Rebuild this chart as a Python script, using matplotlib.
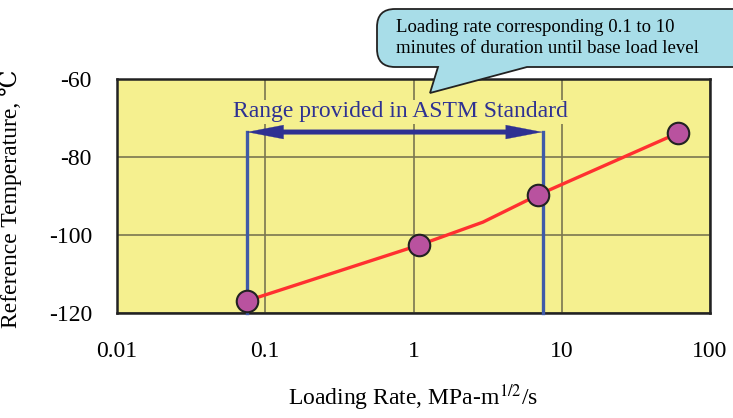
import matplotlib.pyplot as plt
from matplotlib.patches import PathPatch, FancyArrowPatch
from matplotlib.path import Path

# Data
rate = [0.075, 1.09, 6.95, 60.5]            # MPa-m^1/2/s
ref_temp = [-116.9, -102.6, -89.7, -73.9]   # deg C
curve_rate = [0.075, 1.09, 2.94, 6.95, 60.5]
curve_temp = [-116.9, -102.6, -96.7, -89.7, -73.9]
astm_range = [0.075, 7.43]
astm_top = -73.6
xticks = [0.01, 0.1, 1, 10, 100]
xtick_labels = ["0.01", "0.1", "1", "10", "100"]
yticks = [-120, -100, -80, -60]

plt.rcParams['font.family'] = ['Liberation Serif', 'DejaVu Serif']
plt.rcParams['mathtext.fontset'] = 'stix'
plt.rcParams['axes.unicode_minus'] = False

W, H = 733, 418
fig = plt.figure(figsize=(W / 100, H / 100), dpi=100)
ax = fig.add_axes([117 / W, 1 - 313 / H, (710 - 117) / W, (313 - 79) / H])

ax.set_facecolor('#f5f08f')
ax.set_xscale('log')
ax.set_xlim(0.01, 100)
ax.set_ylim(-120, -60)
ax.set_xticks(xticks)
ax.set_xticklabels(xtick_labels)
ax.set_yticks(yticks)
ax.minorticks_off()
ax.tick_params(length=0, labelsize=17, pad=20)
ax.tick_params(axis='y', pad=18)
ax.grid(True, color='#7a7650', lw=1.2)
ax.set_axisbelow(True)
for s in ax.spines.values():
    s.set_color('#222222')
    s.set_linewidth(1.8)

ax.set_xlabel("Loading Rate, MPa-m$^{1/2}$/s", fontsize=17, labelpad=15)
ax.set_ylabel("Reference Temperature, \u2103", fontsize=17)
ax.yaxis.set_label_coords(-0.16, 0.49)

# ASTM range: vertical lines and double arrow
for xv in astm_range:
    ax.plot([xv, xv], [-120, astm_top], color='#3f5aa8', lw=2.4, zorder=3, clip_on=False)
heads = FancyArrowPatch((astm_range[0], astm_top), (astm_range[1], astm_top),
                        arrowstyle='<|-|>,head_length=2.6,head_width=0.5',
                        mutation_scale=10, color='#2e3192', lw=0.2, zorder=4,
                        shrinkA=0, shrinkB=0)
shaft = FancyArrowPatch((astm_range[0], astm_top), (astm_range[1], astm_top),
                        arrowstyle='-', color='#2e3192', lw=3.6, zorder=4,
                        shrinkA=15, shrinkB=15)
ax.add_patch(heads)
ax.add_patch(shaft)
ax.text(0.82, -68.4, "Range provided in ASTM Standard", fontsize=17,
        color='#2e3192', ha='center', va='center', zorder=4,
        bbox=dict(facecolor='#f5f08f', edgecolor='none', pad=1))

# data line and markers
ax.plot(curve_rate, curve_temp, color='#ff3030', lw=2.4, zorder=5)
ax.plot(rate, ref_temp, 'o', ms=15.5, mfc='#b9529f', mec='#222222', mew=1.5, zorder=6)

# callout bubble (figure pixel coordinates)
r = 18
L, R, B, T = 377, 760, H - 67, H - 9
verts = [(438, B), (430, H - 93), (527, B), (R, B), (R, T), (L + r, T),
         (L, T), (L, T - r), (L, B + r), (L, B), (L + r, B), (438, B)]
codes = [Path.MOVETO, Path.LINETO, Path.LINETO, Path.LINETO, Path.LINETO, Path.LINETO,
         Path.CURVE3, Path.CURVE3, Path.LINETO, Path.CURVE3, Path.CURVE3, Path.CLOSEPOLY]
verts = [(x / W, y / H) for x, y in verts]
bubble = PathPatch(Path(verts, codes), transform=fig.transFigure,
                   facecolor='#a8dde8', edgecolor='#222222', lw=1.3, zorder=10)
fig.patches.append(bubble)
fig.text(396 / W, 1 - 38 / H, "Loading rate corresponding 0.1 to 10\nminutes of duration until base load level",
         fontsize=13.5, ha='left', va='center', linespacing=1.3, zorder=11)

fig.savefig("out.png", dpi=100)
